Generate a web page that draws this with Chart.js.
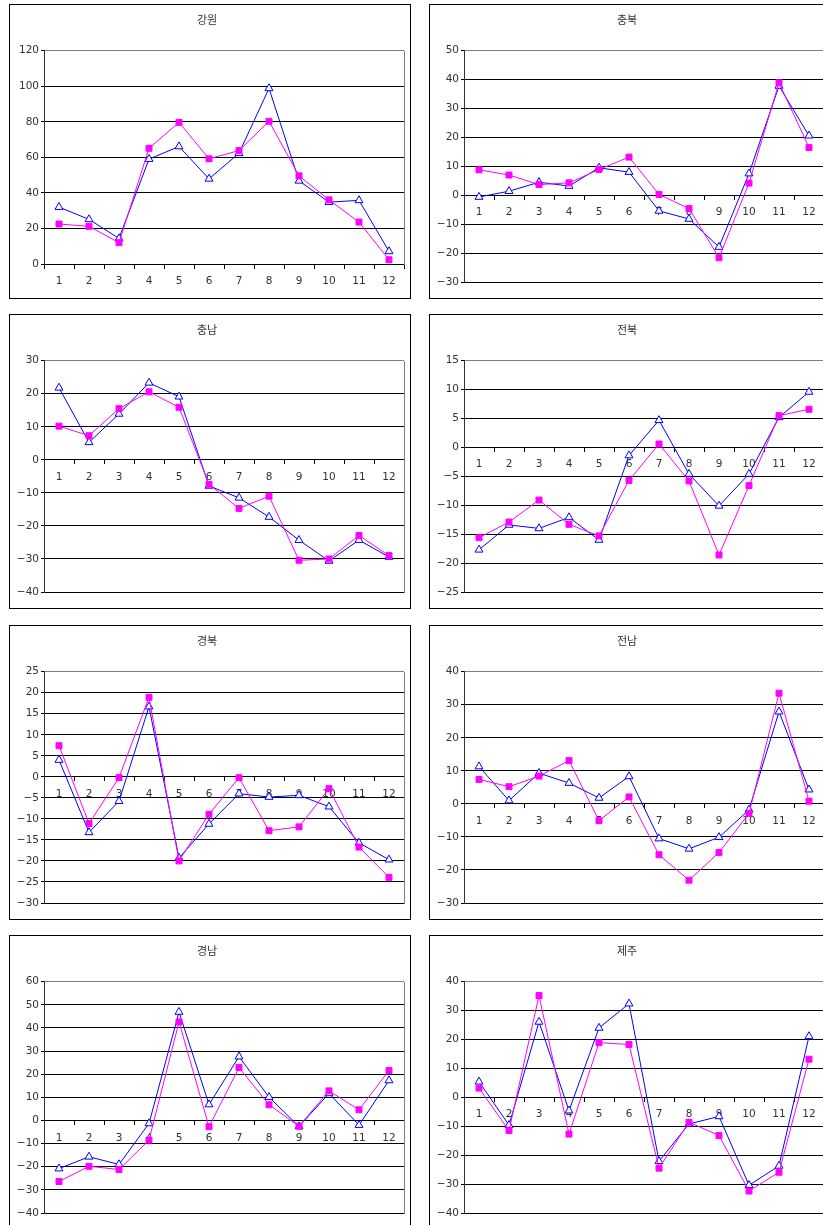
<!DOCTYPE html>
<html lang="ko">
<head>
<meta charset="utf-8">
<title>지역별 월별 증감</title>
<script src="https://cdn.jsdelivr.net/npm/chart.js@4/dist/chart.umd.min.js"></script>
<style>
  html, body { margin: 0; padding: 0; background: #fff; width: 823px; height: 1225px; overflow: hidden; }
  .panel { position: absolute; width: 400px; height: 293px; border: 1px solid #000; background: #fff; }
  .panel canvas { display: block; }
</style>
</head>
<body>
<div class="panel" style="left:9px;top:4px"><canvas id="c0" width="400" height="293"></canvas></div>
<div class="panel" style="left:429px;top:4px"><canvas id="c1" width="400" height="293"></canvas></div>
<div class="panel" style="left:9px;top:314px"><canvas id="c2" width="400" height="293"></canvas></div>
<div class="panel" style="left:429px;top:314px"><canvas id="c3" width="400" height="293"></canvas></div>
<div class="panel" style="left:9px;top:625px"><canvas id="c4" width="400" height="293"></canvas></div>
<div class="panel" style="left:429px;top:625px"><canvas id="c5" width="400" height="293"></canvas></div>
<div class="panel" style="left:9px;top:935px"><canvas id="c6" width="400" height="293"></canvas></div>
<div class="panel" style="left:429px;top:935px"><canvas id="c7" width="400" height="293"></canvas></div>
<script>
// Month categories shared by every panel
const months = ['1', '2', '3', '4', '5', '6', '7', '8', '9', '10', '11', '12'];

// Region titles
const regions = ['강원', '충북', '충남', '전북', '경북', '전남', '경남', '제주'];

// Blue (triangle) and pink (square) series per region
const gangwonBlue   = [32.0, 25.1, 14.4, 59.0, 66.1, 47.9, 62.3, 98.8, 46.8, 34.8, 35.8, 7.1];
const gangwonPink   = [22.5, 21.2, 12.0, 65.1, 79.7, 59.2, 63.8, 80.3, 49.6, 36.1, 23.6, 2.4];
const chungbukBlue  = [-0.6, 1.4, 4.5, 3.2, 9.5, 8.0, -5.4, -8.2, -17.9, 7.5, 37.8, 20.6];
const chungbukPink  = [8.8, 7.0, 3.7, 4.3, 8.9, 13.2, 0.3, -4.6, -21.6, 4.2, 38.9, 16.5];
const chungnamBlue  = [21.8, 5.3, 13.9, 23.3, 19.1, -7.9, -11.5, -17.3, -24.3, -30.6, -24.3, -29.4];
const chungnamPink  = [10.2, 7.3, 15.5, 20.6, 15.9, -7.4, -14.7, -11.0, -30.4, -30.0, -22.9, -29.0];
const jeonbukBlue   = [-17.7, -13.4, -14.0, -12.1, -16.0, -1.4, 4.7, -4.6, -10.1, -4.6, 5.2, 9.6];
const jeonbukPink   = [-15.6, -12.9, -9.1, -13.3, -15.3, -5.7, 0.6, -5.8, -18.6, -6.6, 5.5, 6.6];
const gyeongbukBlue = [4.0, -13.2, -5.8, 16.7, -19.3, -11.2, -4.0, -4.8, -4.4, -7.1, -15.7, -19.7];
const gyeongbukPink = [7.4, -11.1, -0.2, 18.9, -20.0, -8.9, -0.2, -12.8, -11.9, -2.8, -16.7, -23.9];
const jeonnamBlue   = [11.3, 1.0, 9.3, 6.3, 1.8, 8.3, -10.5, -13.6, -10.1, -1.8, 27.9, 4.3];
const jeonnamPink   = [7.4, 5.2, 8.4, 13.1, -5.1, 2.1, -15.4, -23.1, -14.7, -2.9, 33.5, 0.8];
const gyeongnamBlue = [-20.8, -15.7, -19.0, -1.3, 46.9, 6.9, 27.6, 10.1, -2.6, 11.7, -2.0, 17.3];
const gyeongnamPink = [-26.4, -19.8, -21.2, -8.5, 42.6, -2.7, 22.9, 6.8, -2.5, 12.8, 4.6, 21.6];
const jejuBlue      = [5.4, -9.6, 26.1, -4.6, 24.0, 32.4, -22.1, -9.2, -6.6, -30.4, -23.7, 21.1];
const jejuPink      = [3.2, -11.5, 35.2, -12.7, 18.9, 18.3, -24.5, -8.6, -13.2, -32.4, -25.9, 13.2];

// Value axis ranges: [min, max, step]
const gangwonAxis   = [0, 120, 20];
const chungbukAxis  = [-30, 50, 10];
const chungnamAxis  = [-40, 30, 10];
const jeonbukAxis   = [-25, 15, 5];
const gyeongbukAxis = [-30, 25, 5];
const jeonnamAxis   = [-30, 40, 10];
const gyeongnamAxis = [-40, 60, 10];
const jejuAxis      = [-40, 40, 10];

const panels = [
  [gangwonBlue, gangwonPink, gangwonAxis],
  [chungbukBlue, chungbukPink, chungbukAxis],
  [chungnamBlue, chungnamPink, chungnamAxis],
  [jeonbukBlue, jeonbukPink, jeonbukAxis],
  [gyeongbukBlue, gyeongbukPink, gyeongbukAxis],
  [jeonnamBlue, jeonnamPink, jeonnamAxis],
  [gyeongnamBlue, gyeongnamPink, gyeongnamAxis],
  [jejuBlue, jejuPink, jejuAxis]
];

const TEXT = '#333333';
const tickFont = { family: "'DejaVu Sans', sans-serif", size: 10.5 };
const titleFont = { family: "'Noto Sans CJK KR', sans-serif", size: 11, weight: 'normal' };

// Gray frame on the right side of the plot area
const plotFrame = {
  id: 'plotFrame',
  beforeDatasetsDraw(chart) {
    const { ctx, chartArea: a } = chart;
    const x = Math.round(a.right) + 0.5;
    ctx.save();
    ctx.strokeStyle = '#808080';
    ctx.lineWidth = 1;
    ctx.beginPath();
    ctx.moveTo(x, Math.round(a.top));
    ctx.lineTo(x, Math.round(a.bottom) + 1);
    ctx.stroke();
    ctx.restore();
  }
};

function fmt(v) {
  return v < 0 ? '\u2212' + Math.abs(v) : String(v);
}

panels.forEach(([blue, pink, axis], i) => {
  const [min, max, step] = axis;
  const zeroAtBottom = min === 0;
  new Chart(document.getElementById('c' + i), {
    type: 'line',
    data: {
      labels: months,
      datasets: [
        {
          data: pink,
          borderColor: '#FF00FF',
          backgroundColor: '#FF00FF',
          borderWidth: 1,
          pointStyle: 'rect',
          pointRadius: 4.2,
          pointBorderWidth: 1,
          pointBorderColor: '#FF00FF',
          pointBackgroundColor: '#FF00FF',
          tension: 0,
          clip: false
        },
        {
          data: blue,
          borderColor: '#0000FF',
          backgroundColor: '#FFFFFF',
          borderWidth: 1,
          pointStyle: 'triangle',
          pointRadius: 4.6,
          pointBorderWidth: 1,
          pointBorderColor: '#0000FF',
          pointBackgroundColor: '#FFFFFF',
          tension: 0,
          clip: false
        }
      ]
    },
    options: {
      responsive: false,
      animation: false,
      events: [],
      layout: { padding: { left: 0, right: 6, top: 0, bottom: zeroAtBottom ? 34 : 16 } },
      plugins: {
        legend: { display: false },
        tooltip: { enabled: false },
        title: {
          display: true,
          text: regions[i],
          color: TEXT,
          font: titleFont,
          padding: { top: 8, bottom: 24.5 }
        }
      },
      scales: {
        x: {
          type: 'category',
          position: { y: 0 },
          offset: true,
          grid: {
            offset: true,
            drawOnChartArea: false,
            drawTicks: true,
            tickLength: 4,
            color: '#000000'
          },
          border: { display: true, color: '#000000', width: 1 },
          ticks: { color: TEXT, font: tickFont, padding: 7, maxRotation: 0, autoSkip: false }
        },
        y: {
          min: min,
          max: max,
          ticks: { stepSize: step, color: TEXT, font: tickFont, padding: 2, callback: fmt },
          grid: {
            color: (ctx) => (ctx.tick && ctx.tick.value === max ? '#808080' : '#000000'),
            tickColor: '#000000',
            tickLength: 3,
            lineWidth: 1
          },
          border: { display: true, color: '#333333', width: 1 },
          afterFit(scale) { scale.width = 34; }
        }
      }
    },
    plugins: [plotFrame]
  });
});
</script>
</body>
</html>
